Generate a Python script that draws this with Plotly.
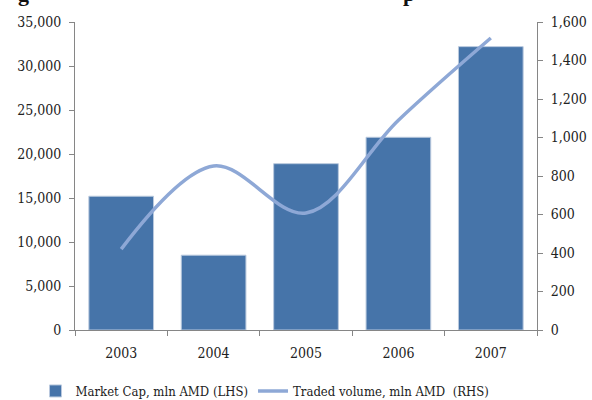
import plotly.graph_objects as go

years = ["2003", "2004", "2005", "2006", "2007"]
market_cap = [15200, 8500, 18900, 21900, 32200]
traded_volume = [420, 852, 608, 1090, 1517]

font_family = "DejaVu Serif Condensed, DejaVu Serif, serif"
axis_color = "#868686"

fig = go.Figure()
fig.add_trace(go.Bar(
    x=years, y=market_cap, name="Market Cap, mln AMD (LHS)",
    marker=dict(color="#4674A9", line=dict(color="#B9C9DE", width=1)),
    width=0.7,
))
fig.add_trace(go.Scatter(
    x=years, y=traded_volume, name="Traded volume, mln AMD  (RHS)",
    yaxis="y2", mode="lines",
    line=dict(color="#8EA8D6", width=3.5, shape="spline", smoothing=1.0),
))

fig.update_layout(
    width=592, height=400,
    margin=dict(l=75, r=55, t=22, b=70, autoexpand=False),
    plot_bgcolor="white", paper_bgcolor="white",
    font=dict(family=font_family, size=14, color="#222222"),
    bargap=0.3,
    showlegend=True,
    legend=dict(orientation="h", x=0.06, xanchor="left", xref="container",
                y=-46 / 308, yanchor="top", yref="paper",
                font=dict(size=13), itemwidth=30, tracegroupgap=0),
    xaxis=dict(
        type="category", showline=True, linecolor=axis_color, linewidth=1,
        ticks="outside", tickson="boundaries", tickcolor=axis_color, ticklen=5,
        showgrid=False, ticklabelstandoff=10,
    ),
    yaxis=dict(
        range=[0, 35000], tickvals=[0, 5000, 10000, 15000, 20000, 25000, 30000, 35000],
        tickformat=",d", showline=True, linecolor=axis_color, linewidth=1,
        ticks="outside", tickcolor=axis_color, ticklen=5, showgrid=False, zeroline=False,
        ticklabelstandoff=5,
    ),
    yaxis2=dict(
        range=[0, 1600], tickvals=[0, 200, 400, 600, 800, 1000, 1200, 1400, 1600],
        tickformat=",d", overlaying="y", side="right", showline=True,
        linecolor=axis_color, linewidth=1, ticks="outside", tickcolor=axis_color,
        ticklen=5, showgrid=False, zeroline=False, ticklabelstandoff=5,
    ),
)
fig.add_annotation(text="<b>g</b>", xref="x domain", x=(16 - 75) / 462, yref="paper", y=1 + 14 / 308,
                   yanchor="bottom", showarrow=False, font=dict(size=22, family="Liberation Serif", color="#111"))
fig.add_annotation(text="<b>p</b>", xref="x domain", x=(417 - 75) / 462, yref="paper", y=1 + 14 / 308,
                   yanchor="bottom", showarrow=False, font=dict(size=22, family="Liberation Serif", color="#111"))

fig.write_html("out.html", config={"displayModeBar": False},
               post_script="document.body.style.margin='0';")
